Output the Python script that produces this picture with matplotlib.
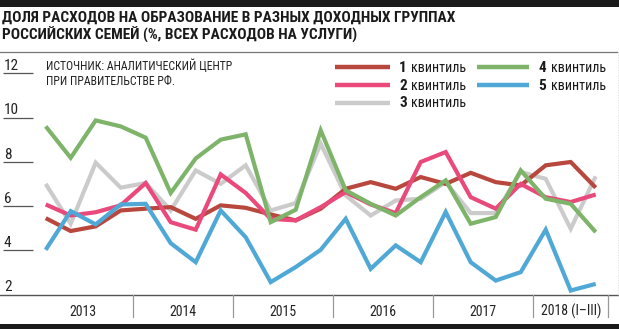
import matplotlib
matplotlib.use("Agg")
import matplotlib.pyplot as plt
from matplotlib import font_manager
from matplotlib.lines import Line2D
from matplotlib.patches import Rectangle

# ---------------- data ----------------
years = ["2013", "2014", "2015", "2016", "2017", "2018 (I–III)"]
quarters_per_year = [4, 4, 4, 4, 4, 3]
series_names = ["1 квинтиль", "2 квинтиль", "3 квинтиль", "4 квинтиль", "5 квинтиль"]

q1 = [5.45, 4.87, 5.08, 5.80, 5.88, 5.95, 5.42, 6.03, 5.92, 5.62, 5.35, 5.88,
      6.78, 7.08, 6.78, 7.31, 7.00, 7.50, 7.08, 6.93, 7.84, 7.99, 6.83]
q2 = [6.07, 5.57, 5.72, 6.03, 7.04, 5.27, 4.93, 7.43, 6.59, 5.42, 5.35, 5.95,
      6.63, 6.07, 5.68, 7.99, 8.44, 6.40, 5.88, 7.00, 6.40, 6.18, 6.52]
q3 = [7.00, 5.20, 7.96, 6.83, 7.04, 5.80, 7.61, 7.00, 7.84, 5.80, 6.13, 8.82,
      6.48, 5.57, 6.25, 6.33, 7.08, 5.68, 5.68, 7.54, 7.23, 4.97, 7.34]
q4 = [9.60, 8.18, 9.87, 9.60, 9.09, 6.59, 8.15, 9.00, 9.24, 5.27, 5.83, 9.42,
      6.71, 6.10, 5.57, 6.40, 7.16, 5.20, 5.50, 7.61, 6.33, 6.10, 4.82]
q5 = [4.02, 5.77, 5.17, 6.07, 6.10, 4.32, 3.46, 5.80, 4.59, 2.56, 3.24, 4.02,
      5.42, 3.16, 4.22, 3.46, 5.73, 3.46, 2.63, 3.01, 4.93, 2.18, 2.48]
yticks = [4, 6, 8, 10, 12]

colors = {"q1": "#b8473d", "q2": "#e94a7b", "q3": "#cbcbcb",
          "q4": "#7db46a", "q5": "#4fa8d6"}

# ---------------- fonts ----------------
avail = {f.name for f in font_manager.fontManager.ttflist}
STR = "normal"
FAM = None
for cand in ["Roboto Condensed", "PT Sans Narrow", "Liberation Sans Narrow",
             "Arial Narrow", "Archivo Narrow", "Fira Sans Condensed",
             "Open Sans Condensed"]:
    if cand in avail:
        FAM = [cand, "DejaVu Sans"]
        break
if FAM is None:
    FAM = ["DejaVu Sans"]
    STR = "condensed"
plt.rcParams["font.family"] = FAM
plt.rcParams["font.stretch"] = STR

W, H = 619, 329
fig = plt.figure(figsize=(W / 100, H / 100), dpi=100)

def fx(p):
    return p / W

def fy(p):
    return 1 - p / H

# plot axes in pixel geometry
top_px, bot_px = 52.0, 294.5
x0_px, dx_px = 45.7, 25.0
ppu = 22.12
ax = fig.add_axes([0, fy(bot_px), 1, (bot_px - top_px) / H])
ax.set_xlim(-x0_px / dx_px, (W - x0_px) / dx_px)
ax.set_ylim(2, 2 + (bot_px - top_px) / ppu)
ax.axis("off")

# short gridlines + tick labels
ytr = ax.get_yaxis_transform()
for v in yticks:
    ax.plot([3 / W, 33 / W], [v, v], color="#555555", lw=0.9, transform=ytr,
            solid_capstyle="butt")
    ax.text(4 / W, v + 3.2 / ppu, str(v), transform=ytr, ha="left",
            va="baseline", fontsize=11, color="#222222")
ax.text(4 / W, 2 + 3.2 / ppu, "2", transform=ytr, ha="left", va="baseline",
        fontsize=11, color="#222222", clip_on=False)

# axis line and top line
ax.axhline(2, color="#555555", lw=1.0, clip_on=False)
fig.add_artist(Line2D([0, fx(617)], [fy(51.5), fy(51.5)], color="#777777", lw=0.9))
fig.add_artist(Line2D([fx(617.5), fx(617.5)], [fy(51.5), fy(bot_px)],
                      color="#cccccc", lw=0.6, ls=(0, (1, 2))))

# data lines
n = len(q1)
xs = list(range(n))
order = [("q3", q3), ("q1", q1), ("q2", q2), ("q4", q4), ("q5", q5)]
for key, vals in order:
    ax.plot(xs, vals, color=colors[key], lw=3.0, solid_joinstyle="miter",
            solid_capstyle="butt", clip_on=False)

# year separators and labels
edges = [-0.5]
for q in quarters_per_year:
    edges.append(edges[-1] + q)
sep_len = 22.5 / ppu
for e in edges[1:]:
    ax.plot([e, e], [2, 2 - sep_len], color="#999999", lw=0.9, clip_on=False)
for i, yr in enumerate(years):
    c = (edges[i] + edges[i + 1]) / 2
    ax.text(c, 2 - 17.0 / ppu, yr, ha="center", va="center", fontsize=10,
            color="#222222", clip_on=False)

# black bars
fig.add_artist(Rectangle((0, 0), 1, 5 / H, color="#1a1a1a", lw=0))
fig.add_artist(Rectangle((0, fy(6.5)), 1, 6.5 / H, color="#1a1a1a", lw=0))

# title
fig.text(fx(2), fy(18.2), "ДОЛЯ РАСХОДОВ НА ОБРАЗОВАНИЕ В РАЗНЫХ ДОХОДНЫХ ГРУППАХ",
         ha="left", va="center", fontsize=11.1, fontweight="bold", color="#1a1a1a")
fig.text(fx(2), fy(34.8), "РОССИЙСКИХ СЕМЕЙ (%, ВСЕХ РАСХОДОВ НА УСЛУГИ)",
         ha="left", va="center", fontsize=11.1, fontweight="bold", color="#1a1a1a")

# source
fig.text(fx(45.5), fy(66.0), "ИСТОЧНИК: АНАЛИТИЧЕСКИЙ ЦЕНТР", ha="left",
         va="center", fontsize=8.5, color="#222222")
fig.text(fx(45.5), fy(81.5), "ПРИ ПРАВИТЕЛЬСТВЕ РФ.", ha="left",
         va="center", fontsize=8.5, color="#222222")

# legend (manual)
leg = [("q1", 0, 0), ("q2", 0, 1), ("q3", 0, 2), ("q4", 1, 0), ("q5", 1, 1)]
col_line = [(335, 390), (477, 529)]
col_digit = [399, 538.5]
col_word = [410.5, 551.5]
row_y = [67.3, 85.0, 102.7]
for (key, c, r), name in zip(leg, series_names):
    digit, word = name.split(" ", 1)
    y = row_y[r]
    fig.add_artist(Line2D([fx(col_line[c][0]), fx(col_line[c][1])], [fy(y), fy(y)],
                          color=colors[key], lw=3.2, solid_capstyle="butt"))
    fig.text(fx(col_digit[c]), fy(y + 0.5), digit, ha="left", va="center",
             fontsize=11, fontweight="bold", color="#1a1a1a")
    fig.text(fx(col_word[c]), fy(y + 0.5), word, ha="left", va="center",
             fontsize=10.1, color="#1a1a1a")

fig.savefig("out.png", dpi=100)
